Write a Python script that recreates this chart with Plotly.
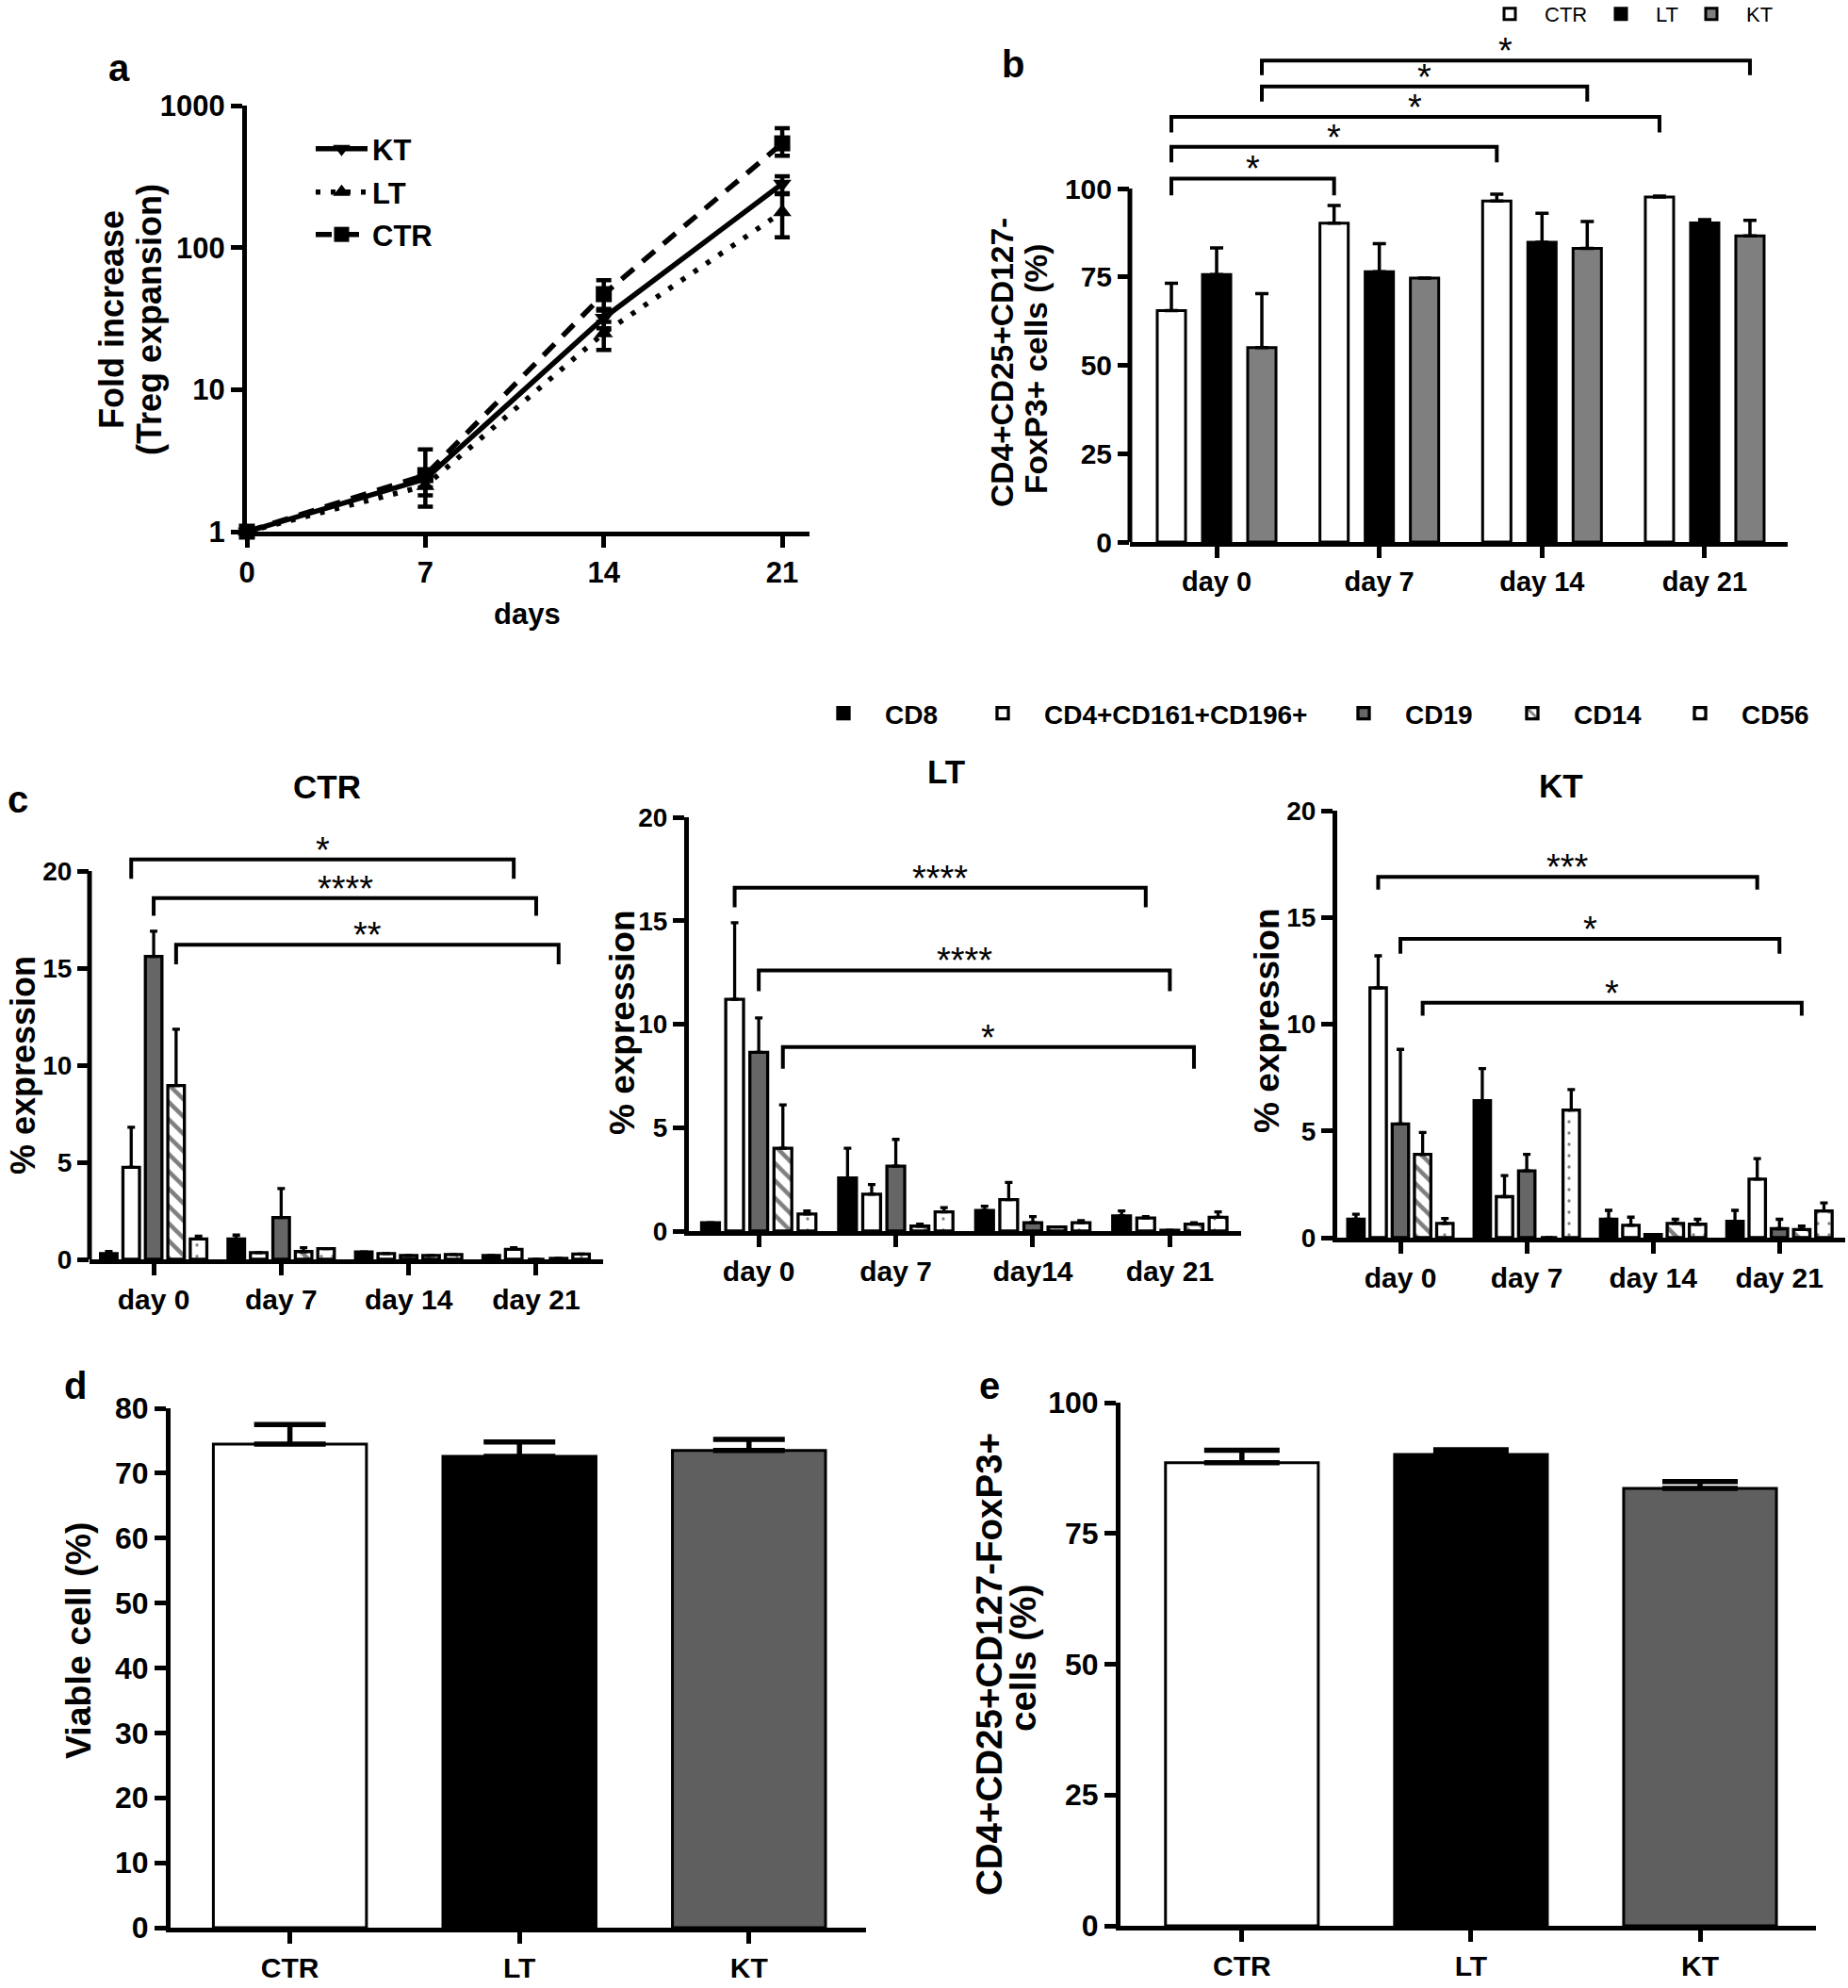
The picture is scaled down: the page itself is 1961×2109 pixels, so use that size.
import plotly.graph_objects as go

W, H = 1961, 2109

# ------------------------------------------------------------------ data
# (a) fold increase (Treg expansion)
days_num = [0, 7, 14, 21]
fold_KT = [1, 2.35, 32, 281]
fold_KT_up = [0, 0.3, 5, 37]
fold_KT_dn = [0, 0.3, 5, 40]
fold_LT = [1, 2.1, 25, 178]
fold_LT_up = [0, 0.3, 5, 60]
fold_LT_dn = [0, 0.3, 6, 60]
fold_CTR = [1, 2.5, 47, 542]
fold_CTR_up = [0, 1.3, 12, 150]
fold_CTR_dn = [0, 1.0, 11, 98]

# (b) CD4+CD25+CD127-FoxP3+ cells (%)
days_b = ["day 0", "day 7", "day 14", "day 21"]
treg_CTR = [65.5, 90.2, 96.5, 97.6]
treg_CTR_err = [7.7, 5.0, 1.9, 0.3]
treg_LT = [75.7, 76.5, 84.8, 90.3]
treg_LT_err = [7.5, 7.9, 8.2, 0.9]
treg_KT = [55.0, 74.7, 83.1, 86.6]
treg_KT_err = [15.3, 0.0, 7.6, 4.4]

# (c) % expression of contaminating populations
populations = ["CD8", "CD4+CD161+CD196+", "CD19", "CD14", "CD56"]
days_c_CTR = ["day 0", "day 7", "day 14", "day 21"]
days_c_LT = ["day 0", "day 7", "day14", "day 21"]
days_c_KT = ["day 0", "day 7", "day 14", "day 21"]

ctr_CD8 = [0.3, 1.05, 0.38, 0.2];   ctr_CD8_err = [0.1, 0.2, 0.0, 0.0]
ctr_CD4 = [4.74, 0.35, 0.3, 0.52];  ctr_CD4_err = [2.06, 0.0, 0.0, 0.08]
ctr_CD19 = [15.6, 2.15, 0.2, 0.0];  ctr_CD19_err = [1.3, 1.5, 0.0, 0.0]
ctr_CD14 = [8.95, 0.4, 0.2, 0.05];  ctr_CD14_err = [2.9, 0.2, 0.0, 0.0]
ctr_CD56 = [1.05, 0.55, 0.25, 0.27]; ctr_CD56_err = [0.15, 0.0, 0.0, 0.0]

lt_CD8 = [0.4, 2.57, 1.0, 0.73];    lt_CD8_err = [0.0, 1.43, 0.2, 0.24]
lt_CD4 = [11.2, 1.78, 1.52, 0.63];  lt_CD4_err = [3.7, 0.47, 0.83, 0.07]
lt_CD19 = [8.64, 3.14, 0.4, 0.04];  lt_CD19_err = [1.66, 1.29, 0.3, 0.0]
lt_CD14 = [4.0, 0.24, 0.2, 0.34];   lt_CD14_err = [2.1, 0.1, 0.0, 0.06]
lt_CD56 = [0.83, 0.93, 0.4, 0.67];  lt_CD56_err = [0.14, 0.2, 0.1, 0.26]

kt_CD8 = [0.86, 6.42, 0.86, 0.77];  kt_CD8_err = [0.24, 1.5, 0.42, 0.51]
kt_CD4 = [11.7, 1.92, 0.58, 2.74];  kt_CD4_err = [1.5, 0.99, 0.38, 0.96]
kt_CD19 = [5.33, 3.13, 0.15, 0.42]; kt_CD19_err = [3.49, 0.77, 0.0, 0.44]
kt_CD14 = [3.9, 0.0, 0.67, 0.38];   kt_CD14_err = [1.03, 0.0, 0.19, 0.16]
kt_CD56 = [0.67, 5.98, 0.63, 1.25]; kt_CD56_err = [0.23, 0.96, 0.23, 0.38]

# (d) viable cells, (e) Treg purity
groups_de = ["CTR", "LT", "KT"]
viable = [74.5, 72.6, 73.5]
viable_err = [3.0, 2.2, 1.7]
purity = [88.5, 90.1, 83.6]
purity_err = [2.4, 0.9, 1.3]

# significance brackets: (group_from, bar_from, group_to, bar_to, y_bar, y_drop, label)
sig_b = [(0, 2, 3, 2, 136.2, 132.1, "*"), (0, 2, 2, 2, 128.9, 124.6, "*"),
         (0, 0, 3, 0, 120.3, 115.9, "*"), (0, 0, 2, 0, 111.8, 107.4, "*"),
         (0, 0, 1, 0, 102.8, 98.1, "*")]
sig_ctr = [(0, 1, 3, 1, 20.6, 19.6, "*"), (0, 2, 3, 2, 18.6, 17.7, "****"),
           (0, 3, 3, 3, 16.2, 15.2, "**")]
sig_lt = [(0, 1, 3, 1, 16.6, 15.65, "****"), (0, 2, 3, 2, 12.6, 11.6, "****"),
          (0, 3, 3, 3, 8.9, 7.85, "*")]
sig_kt = [(0, 1, 3, 1, 16.9, 16.3, "***"), (0, 2, 3, 2, 14.0, 13.3, "*"),
          (0, 3, 3, 3, 11.0, 10.4, "*")]

# ------------------------------------------------------------------ style
BOLD = "Liberation Sans, Arial, sans-serif"
TICKFONT = dict(family=BOLD, size=30, color="black", weight="bold")
GREY_B = "#7f7f7f"
GREY = "#5f5f5f"


def px_x(p):
    return p / W


def px_y(p):
    return 1 - p / H


def dom_x(a, b):
    return [a / W, b / W]


def dom_y(top, bottom):
    return [1 - bottom / H, 1 - top / H]


def axis(**kw):
    d = dict(showline=True, linecolor="black", linewidth=5, ticks="outside",
             ticklen=12, tickwidth=5, tickcolor="black", showgrid=False,
             zeroline=False, tickfont=TICKFONT, fixedrange=True, automargin=False)
    d.update(kw)
    return d


fig = go.Figure()

# ------------------------------------------------------------------ panel a
a_series = [
    ("KT", fold_KT, fold_KT_up, fold_KT_dn, "solid", "triangle-down", "legend"),
    ("LT", fold_LT, fold_LT_up, fold_LT_dn, "5px,11px", "triangle-up", "legend2"),
    ("CTR", fold_CTR, fold_CTR_up, fold_CTR_dn, "17px,12px", "square", "legend3"),
]
for name, vals, up, dn, dash, sym, lg in a_series:
    fig.add_trace(go.Scatter(
        x=days_num, y=vals, name=name, mode="lines+markers",
        line=dict(color="black", width=5.5, dash=dash),
        marker=dict(symbol=sym, size=17, color="black"),
        error_y=dict(type="data", array=up, arrayminus=dn, symmetric=False,
                     color="black", thickness=4.5, width=8),
        cliponaxis=False, xaxis="x", yaxis="y", legend=lg))

# ------------------------------------------------------------------ panel b
b_series = [("CTR", treg_CTR, treg_CTR_err, "white"),
            ("LT", treg_LT, treg_LT_err, "black"),
            ("KT", treg_KT, treg_KT_err, GREY_B)]
B_PITCH, B_W = 0.278, 0.174
for i, (name, vals, err, col) in enumerate(b_series):
    fig.add_trace(go.Bar(
        x=days_b, y=vals, name=name, width=B_W,
        offset=(i - 1) * B_PITCH - B_W / 2,
        marker=dict(color=col, line=dict(color="black", width=3)),
        error_y=dict(type="data", array=err, arrayminus=[0] * len(err),
                     symmetric=False, color="black", thickness=3.5, width=7),
        xaxis="x2", yaxis="y2", legend=f"legend{4 + i}"))

# ------------------------------------------------------------------ panel c
pop_styles = [
    dict(color="black", line=dict(color="black", width=3.3)),
    dict(color="white", line=dict(color="black", width=3.3)),
    dict(color="#666666", line=dict(color="black", width=3.3)),
    dict(color="white", line=dict(color="black", width=3.3),
         pattern=dict(shape="\\", fgcolor="black", bgcolor="white", size=13,
                      solidity=0.35, fillmode="overlay")),
    dict(color="white", line=dict(color="black", width=3.3),
         pattern=dict(shape=".", fgcolor="black", bgcolor="white", size=12,
                      solidity=0.06, fillmode="overlay")),
]
c_panels = [
    ("x3", "y3", days_c_CTR,
     [(ctr_CD8, ctr_CD8_err), (ctr_CD4, ctr_CD4_err), (ctr_CD19, ctr_CD19_err),
      (ctr_CD14, ctr_CD14_err), (ctr_CD56, ctr_CD56_err)]),
    ("x4", "y4", days_c_LT,
     [(lt_CD8, lt_CD8_err), (lt_CD4, lt_CD4_err), (lt_CD19, lt_CD19_err),
      (lt_CD14, lt_CD14_err), (lt_CD56, lt_CD56_err)]),
    ("x5", "y5", days_c_KT,
     [(kt_CD8, kt_CD8_err), (kt_CD4, kt_CD4_err), (kt_CD19, kt_CD19_err),
      (kt_CD14, kt_CD14_err), (kt_CD56, kt_CD56_err)]),
]
C_PITCH, C_W = 0.176, 0.13
for p, (xa, ya, labels, series) in enumerate(c_panels):
    for i, (vals, err) in enumerate(series):
        fig.add_trace(go.Bar(
            x=labels, y=vals, name=populations[i], width=C_W,
            offset=(i - 2) * C_PITCH - C_W / 2,
            marker=pop_styles[i],
            error_y=dict(type="data", array=err, arrayminus=[0] * len(err),
                         symmetric=False, color="black", thickness=3.3, width=4),
            xaxis=xa, yaxis=ya, showlegend=(p == 0), legend=f"legend{7 + i}"))

# ------------------------------------------------------------------ panels d, e
fig.add_trace(go.Bar(
    x=groups_de, y=viable, width=0.667, showlegend=False,
    marker=dict(color=["white", "black", GREY], line=dict(color="black", width=3)),
    error_y=dict(type="data", array=viable_err, arrayminus=[0, 0, 0], symmetric=False,
                 color="black", thickness=5.5, width=38),
    xaxis="x6", yaxis="y6"))
fig.add_trace(go.Bar(
    x=groups_de, y=purity, width=0.667, showlegend=False,
    marker=dict(color=["white", "black", GREY], line=dict(color="black", width=3)),
    error_y=dict(type="data", array=purity_err, arrayminus=[0, 0, 0], symmetric=False,
                 color="black", thickness=5.5, width=40),
    xaxis="x7", yaxis="y7"))

# ------------------------------------------------------------------ axes
layout = dict(
    width=W, height=H, autosize=False,
    margin=dict(l=0, r=0, t=0, b=0, pad=0, autoexpand=False),
    paper_bgcolor="white", plot_bgcolor="rgba(0,0,0,0)", barmode="overlay",
    showlegend=True, font=dict(family=BOLD, color="black"),
)
layout["xaxis"] = axis(domain=dom_x(262, 859), range=[0, 22.07], anchor="y",
                       tickvals=days_num, ticktext=[str(d) for d in days_num],
                       tickfont=dict(TICKFONT, size=31))
layout["yaxis"] = axis(domain=dom_y(112, 564), type="log", range=[0, 3], anchor="x",
                       tickvals=[1, 10, 100, 1000], ticktext=["1", "10", "100", "1000"],
                       tickfont=dict(TICKFONT, size=31))

layout["xaxis2"] = axis(domain=dom_x(1199, 1897), type="category", anchor="y2",
                        categoryorder="array", categoryarray=days_b,
                        range=[-0.533, 3.51], tickfont=dict(TICKFONT, size=29))
layout["yaxis2"] = axis(domain=dom_y(575 - 142 * 3.75, 575), range=[0, 142], anchor="x2",
                        showline=False, tickvals=[0, 25, 50, 75, 100],
                        tickfont=dict(TICKFONT, size=30))

c_x = [(95, 640, [-0.503, 3.525]), (731, 1317, [-0.51, 3.52]), (1419, 1958, [-0.5, 3.52])]
c_y = [(1336 - 22 * 20.6, 1336, [0, 22]), (867, 1306, [0, 20]), (860, 1313, [0, 20])]
for k in range(3):
    n = 3 + k
    x0, x1, xr = c_x[k]
    y0, y1, yr = c_y[k]
    labels = c_panels[k][2]
    layout[f"xaxis{n}"] = axis(domain=dom_x(x0, x1), type="category", anchor=f"y{n}",
                               categoryorder="array", categoryarray=labels, range=xr)
    layout[f"yaxis{n}"] = axis(domain=dom_y(y0, y1), range=yr, anchor=f"x{n}",
                               tickvals=[0, 5, 10, 15, 20], showline=(k != 0),
                               tickfont=dict(TICKFONT, size=28))

layout["xaxis6"] = axis(domain=dom_x(181, 919), type="category", anchor="y6",
                        range=[-0.52, 2.51])
layout["yaxis6"] = axis(domain=dom_y(1494, 2045), range=[0, 80], anchor="x6",
                        tickvals=list(range(0, 81, 10)), tickfont=dict(TICKFONT, size=32))
layout["xaxis7"] = axis(domain=dom_x(1189, 1927), type="category", anchor="y7",
                        range=[-0.53, 2.506])
layout["yaxis7"] = axis(domain=dom_y(1488, 2043), range=[0, 100], anchor="x7",
                        tickvals=[0, 25, 50, 75, 100], tickfont=dict(TICKFONT, size=32))

# ------------------------------------------------------------------ legends
def legend(x_px, y_px, font, itemwidth=30):
    return dict(x=px_x(x_px), y=px_y(y_px), xanchor="left", yanchor="middle",
                bgcolor="rgba(0,0,0,0)", borderwidth=0, orientation="h",
                font=font, itemwidth=itemwidth, itemclick=False, itemdoubleclick=False)


LEG_A = dict(family=BOLD, size=31, color="black", weight="bold")
for i, cy in enumerate([158, 204, 249]):
    layout["legend" if i == 0 else f"legend{i + 1}"] = legend(330, cy, LEG_A, 55)
LEG_B = dict(family=BOLD, size=22, color="black")
for i, cx in enumerate([1602, 1720, 1816]):
    layout[f"legend{4 + i}"] = legend(cx - 37, 15, LEG_B, 64)
LEG_C = dict(family=BOLD, size=28, color="black", weight="bold")
for i, cx in enumerate([895, 1064, 1447, 1626, 1804]):
    layout[f"legend{7 + i}"] = legend(cx - 44, 757, LEG_C, 78)

# ------------------------------------------------------------------ shapes & annotations
shapes = []
annotations = []

# truncated y-axis lines (axis drawn only over the tick range)
shapes.append(dict(type="line", xref="paper", yref="y2", x0=px_x(1199), x1=px_x(1199),
                   y0=0, y1=100, line=dict(color="black", width=5)))
shapes.append(dict(type="line", xref="paper", yref="y3", x0=px_x(95), x1=px_x(95),
                   y0=0, y1=20, line=dict(color="black", width=5)))


def add_brackets(sigs, xa, ya, pitch, nbars):
    mid = (nbars - 1) / 2
    for g0, b0, g1, b1, yh, yd, lab in sigs:
        xs = g0 + (b0 - mid) * pitch
        xe = g1 + (b1 - mid) * pitch
        shapes.append(dict(type="path", xref=xa, yref=ya,
                           path=f"M {xs},{yd} L {xs},{yh} L {xe},{yh} L {xe},{yd}",
                           line=dict(color="black", width=4)))
        annotations.append(dict(x=(xs + xe) / 2, y=yh, xref=xa, yref=ya, text=lab,
                                showarrow=False, yanchor="bottom", yshift=-13,
                                font=dict(family=BOLD, size=38, color="black")))


add_brackets(sig_b, "x2", "y2", B_PITCH, 3)
add_brackets(sig_ctr, "x3", "y3", C_PITCH, 5)
add_brackets(sig_lt, "x4", "y4", C_PITCH, 5)
add_brackets(sig_kt, "x5", "y5", C_PITCH, 5)


def text(x, y, s, size, angle=0, weight="bold"):
    annotations.append(dict(x=px_x(x), y=px_y(y), xref="paper", yref="paper", text=s,
                            showarrow=False, xanchor="center", yanchor="middle",
                            textangle=angle,
                            font=dict(family=BOLD, size=size, color="black", weight=weight)))


# panel letters
text(127, 72, "a", 40)
text(1075, 68, "b", 40)
text(19, 848, "c", 40)
text(80, 1470, "d", 40)
text(1050, 1470, "e", 40)
# panel c titles
text(347, 835, "CTR", 35)
text(1004, 818, "LT", 35)
text(1656, 833, "KT", 35)
# axis titles
text(119, 339, "Fold increase", 36, -90)
text(159, 339, "(Treg expansion)", 36, -90)
text(559, 651, "days", 31)
text(1064, 385, "CD4+CD25+CD127-", 33.5, -90)
text(1100, 392, "FoxP3+ cells (%)", 33.5, -90)
text(24, 1130, "% expression", 36, -90)
text(660, 1085, "% expression", 37, -90)
text(1344, 1083, "% expression", 37, -90)
text(83, 1740, "Viable cell (%)", 37.5, -90)
text(1049, 1766, "CD4+CD25+CD127-FoxP3+", 38.5, -90)
text(1085, 1759, "cells (%)", 38.5, -90)

layout["shapes"] = shapes
layout["annotations"] = annotations
fig.update_layout(layout)

fig.write_html(
    "out.html",
    config={"displayModeBar": False, "responsive": False},
    post_script=("document.documentElement.style.cssText='margin:0;padding:0;overflow:hidden';"
                 "document.body.style.cssText='margin:0;padding:0;overflow:hidden';"),
)
